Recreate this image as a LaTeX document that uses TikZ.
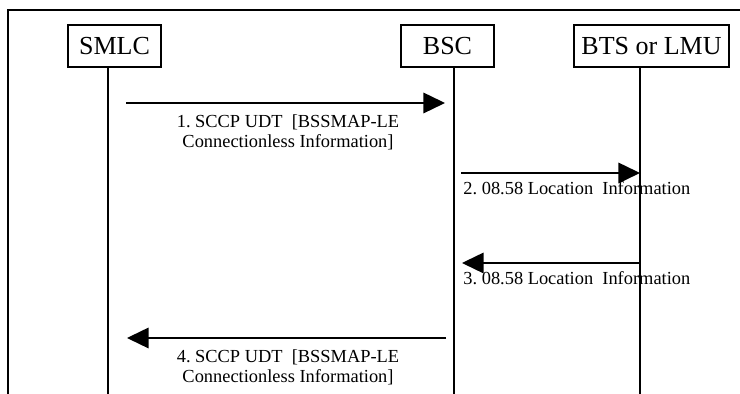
\documentclass[tikz,border=0pt]{standalone}
\usepackage{fontspec}
\setmainfont{Liberation Serif}
\usetikzlibrary{arrows.meta}

\begin{document}
\frenchspacing
\begin{tikzpicture}[x=0.5pt, y=-0.5pt,
	every node/.style={font=\fontsize{9.2}{10}\selectfont, inner sep=0pt},
	entity/.style={draw, line width=0.7pt, minimum height=21pt, font=\fontsize{13}{15}\selectfont},
	>={Triangle[length=10.8pt, width=10.3pt]}]
	\useasboundingbox (0,0) rectangle (740,394);
	\draw[line width=1.2pt] (740,10) -- (8,10) -- (8,394);
	% entities and lifelines
	\node[entity, minimum width=46.5pt] (smlc) at (114.5,46) {SMLC};
	\node[entity, minimum width=46.5pt] (bsc) at (447.5,46) {BSC};
	\node[entity, minimum width=77.5pt] (bts) at (651.5,46) {BTS or LMU};
	\coordinate (smlcend) at (108,394);
	\coordinate (bscend) at (454,394);
	\coordinate (btsend) at (640,394);
	\draw[line width=0.7pt] (smlc.south -| smlcend) -- (smlcend);
	\draw[line width=0.7pt] (bsc.south -| bscend) -- (bscend);
	\draw[line width=0.7pt] (bts.south -| btsend) -- (btsend);
	% messages
	\coordinate (m1a) at (126,103);  \coordinate (m1b) at (445,103);
	\coordinate (m2a) at (461,173);  \coordinate (m2b) at (640,173);
	\coordinate (m3a) at (640,263);  \coordinate (m3b) at (462,263);
	\coordinate (m4a) at (446,338);  \coordinate (m4b) at (127,338);
	\draw[->, line width=0.7pt] (m1a) -- (m1b);
	\draw[->, line width=0.7pt] (m2a) -- (m2b);
	\draw[->, line width=0.7pt] (m3a) -- (m3b);
	\draw[->, line width=0.7pt] (m4a) -- (m4b);
	\node[anchor=north, align=center] (l1) at (288,114.5) {1. SCCP UDT\ \ [BSSMAP-LE\\Connectionless Information]};
	\node[anchor=base west] (l2) at (463,195) {2. 08.58 Location\ \ Information};
	\node[anchor=base west] (l3) at (463,285) {3. 08.58 Location\ \ Information};
	\node[anchor=north, align=center] (l4) at (288,349.5) {4. SCCP UDT\ \ [BSSMAP-LE\\Connectionless Information]};
\end{tikzpicture}
\end{document}
